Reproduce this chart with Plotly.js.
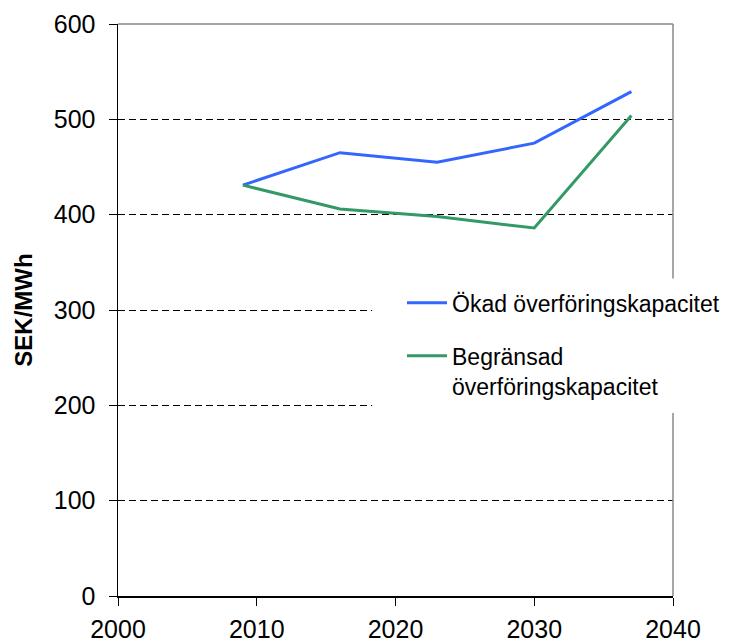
<!DOCTYPE html>
<html>
<head>
<meta charset="utf-8">
<script src="https://cdn.plot.ly/plotly-3.0.1.min.js"></script>
<style>html,body{margin:0;padding:0;background:#fff}#chart{width:749px;height:643px}</style>
</head>
<body>
<div id="chart"></div>
<script>
const years = [2009, 2016, 2023, 2030, 2037];
const okad = [431, 465, 455, 475, 529];
const begransad = [431, 406, 398, 386, 504];
const seriesNames = ["Ökad överföringskapacitet", "Begränsad<br>överföringskapacitet"];
const xTicks = [2000, 2010, 2020, 2030, 2040];
const yTicks = [0, 100, 200, 300, 400, 500, 600];

const FONT = "Liberation Sans, Arial, sans-serif";

const traces = [
  {x: years, y: okad, name: seriesNames[0], type: "scatter", mode: "lines",
   line: {color: "#3366FF", width: 3}, legendgroup: "a"},
  {x: years, y: begransad, name: seriesNames[1], type: "scatter", mode: "lines",
   line: {color: "#339966", width: 3}, legendgroup: "b"}
];

const layout = {
  width: 749, height: 643,
  margin: {l: 118, r: 76, t: 24, b: 47},
  paper_bgcolor: "#fff", plot_bgcolor: "#fff",
  font: {family: FONT, size: 23, color: "#000"},
  showlegend: true,
  legend: {x: 0.5117, xanchor: "left", y: 0.55, yanchor: "top",
           bgcolor: "rgba(0,0,0,0)", borderwidth: 0, itemwidth: 40,
           font: {family: FONT, size: 23, color: "#000"},
           traceorder: "grouped", tracegroupgap: 20, valign: "top"},
  xaxis: {range: [2000, 2040], tickvals: xTicks, ticktext: xTicks.map(String),
          showgrid: false, zeroline: false, showline: true, linecolor: "#000", linewidth: 1.5,
          ticks: "outside", ticklen: 8, tickcolor: "#000", tickwidth: 1, ticklabelstandoff: 2,
          tickfont: {family: FONT, size: 25, color: "#000"}, fixedrange: true},
  yaxis: {range: [0, 600], tickvals: yTicks, ticktext: yTicks.map(String),
          showgrid: true, gridcolor: "#000", gridwidth: 1, griddash: "7px,4px",
          zeroline: false, showline: true, linecolor: "#000", linewidth: 1.5,
          ticks: "outside", ticklen: 8, tickcolor: "#000", tickwidth: 1, ticklabelstandoff: 8,
          tickfont: {family: FONT, size: 25, color: "#000"},
          title: {text: "<b>SEK/MWh</b>", font: {family: FONT, size: 24, color: "#000"}, standoff: 14},
          fixedrange: true},
  shapes: [
    {type: "line", xref: "paper", yref: "paper", x0: 0, x1: 1, y0: 1, y1: 1,
     line: {color: "#888", width: 1.5}, layer: "above"},
    {type: "line", xref: "paper", yref: "paper", x0: 1, x1: 1, y0: 0, y1: 1,
     line: {color: "#888", width: 1.5}, layer: "above"},
    {type: "rect", xref: "paper", yref: "paper", x0: 0.458, x1: 1.05, y0: 0.32, y1: 0.555,
     fillcolor: "#fff", line: {width: 0}, layer: "above"}
  ]
};

Plotly.newPlot("chart", traces, layout, {displayModeBar: false, staticPlot: true});
</script>
</body>
</html>
